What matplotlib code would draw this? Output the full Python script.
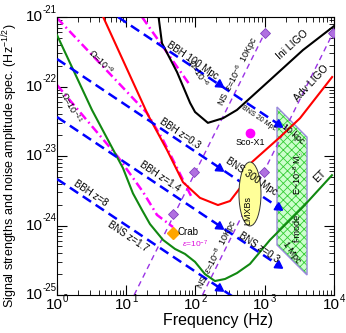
import numpy as np
import matplotlib.pyplot as plt
from matplotlib.patches import Polygon, Ellipse

plt.rcParams['font.family'] = ['Liberation Sans', 'DejaVu Sans']
plt.rcParams['mathtext.fontset'] = 'custom'
plt.rcParams['mathtext.rm'] = 'Liberation Sans'
plt.rcParams['mathtext.it'] = 'Liberation Sans:italic'
plt.rcParams['hatch.linewidth'] = 0.6

# ---------------------------
# detector noise curves (Hz, Hz^-1/2)
# ---------------------------
ini_ligo_f = [27.8, 32.8, 54, 83.6, 98.5, 151, 250, 397, 1191, 3565, 10000]
ini_ligo_h = [1.5e-21, 4.2e-22, 1.62e-22, 5.8e-23, 4.3e-23, 3.0e-23, 3.5e-23,
              4.6e-23, 1.24e-22, 3.35e-22, 7.4e-22]

adv_ligo_f = [4.18, 20.6, 38.8, 66, 116, 211, 315, 440, 555, 655, 1660, 3230, 9400]
adv_ligo_h = [1.26e-21, 3.9e-23, 1.22e-23, 4.2e-24, 2.5e-24, 1.97e-24, 2.25e-24,
              3.47e-24, 5.4e-24, 8.2e-24, 1.87e-23, 3.5e-23, 1.37e-22]

et_f = [1, 3.2, 8.97, 12.5, 16.9, 22, 34, 50.6, 70.5, 98.4, 137, 191, 267, 397,
        612, 1191, 3565, 9350]
et_h = [5.5e-22, 4.6e-23, 6.7e-24, 2.9e-24, 1.67e-24, 1.05e-24, 6.2e-25, 4.6e-25,
        3.9e-25, 3.0e-25, 2.0e-25, 1.59e-25, 1.7e-25, 2.07e-25, 2.8e-25, 6.2e-25,
        1.85e-24, 5.3e-24]

# ---------------------------
# inspiral lines (start / end) and arrow marks
# ---------------------------
insp_f0 = [7.6, 1, 1, 1]
insp_h0 = [1e-21, 2.49e-22, 3.64e-23, 4.67e-24]
insp_f1 = [1580, 1580, 1580, 400]
insp_h1 = [2.87e-23, 1.83e-24, 2.68e-25, 8.6e-26]

arrow_f = [220, 220, 220, 220, 1580, 1580, 1580]
arrow_h = [1.07e-22, 6.8e-24, 9.97e-25, 1.28e-25, 2.87e-23, 1.83e-24, 2.68e-25]

# stochastic background lines
omega_f = [[1, 19.9, 34, 89], [1, 7.6, 17.5, 27.8, 47.3], [16.9, 83]]
omega_h = [[9.7e-22, 4.16e-23, 1.7e-23, 2.5e-24],
           [1.05e-22, 9.7e-24, 3.03e-24, 1.42e-24, 9.5e-25],
           [1e-21, 1.05e-22]]

# NS (pulsar) lines
ns_f = [[13, 1000], [126, 9680]]
ns_h = [[1e-25, 5.9e-22], [1e-25, 5.9e-22]]
ns_mark_f = [1000, 95, 47, 9680, 975]
ns_mark_h = [5.9e-22, 5.9e-24, 1.46e-24, 5.9e-22, 5.9e-24]

# f-mode region
fmode_f = [1503, 4080, 4080, 1503]
fmode_h = [5.07e-23, 1.87e-23, 1.94e-25, 5.24e-25]

# LMXB region (centre, extent in decades)
lmxb_f, lmxb_h = 612, 2.84e-24
lmxb_wdec, lmxb_hdec = 0.318, 0.92

sco_f, sco_h = 612, 2.14e-23
crab_f, crab_h = 47.3, 7.8e-25

x_decades = [0, 1, 2, 3, 4]
y_decades = [-25, -24, -23, -22, -21]

# ---------------------------
fig = plt.figure(figsize=(3.46, 3.33), dpi=100)
ax = fig.add_axes([0.1647, 0.1141, 0.8006, 0.8348])
ax.set_xscale('log')
ax.set_yscale('log')
ax.set_xlim(1, 1e4)
ax.set_ylim(1e-25, 1e-21)

# f-mode box
ax.add_patch(Polygon(list(zip(fmode_f, fmode_h)), closed=True, facecolor='#ccffcc',
                     edgecolor='#33cc33', hatch='xxxx', lw=0, zorder=1))
ax.add_patch(Polygon(list(zip(fmode_f, fmode_h)), closed=True, fill=False,
                     edgecolor='#9a88dd', lw=1.0, zorder=1))

for fs, hs in zip(ns_f, ns_h):
    ax.plot(fs, hs, color='#9a33e6', lw=1.0, dashes=(4, 3), zorder=2)

for fs, hs in zip(omega_f, omega_h):
    ax.plot(fs, hs, color='#ff00ff', lw=1.8, dashes=(3.5, 1.5, 0.7, 1.5), zorder=2)

ax.plot(ini_ligo_f, ini_ligo_h, color='black', lw=1.5, zorder=3)
ax.plot(adv_ligo_f, adv_ligo_h, color='red', lw=1.5, zorder=3)
ax.plot(et_f, et_h, color='#118811', lw=1.5, zorder=3)

for f0, h0, f1, h1 in zip(insp_f0, insp_h0, insp_f1, insp_h1):
    ax.plot([f0, f1], [h0, h1], color='blue', lw=1.8, dashes=(4, 2.2), zorder=4)
ax.plot(arrow_f, arrow_h, ls='none', marker=(3, 0, -123.8), ms=7, color='blue', zorder=4)

ax.plot(ns_mark_f, ns_mark_h, ls='none', marker='D', ms=5.5, mfc='#b070e0',
        mec='#8040c0', mew=0.6, zorder=5)

ex = np.log10(lmxb_f) / 4
ey = (np.log10(lmxb_h) + 25) / 4
ax.add_patch(Ellipse((ex, ey), lmxb_wdec / 4, lmxb_hdec / 4, transform=ax.transAxes,
                     facecolor='#ffff99', edgecolor='#333333', lw=0.7, zorder=5))

ax.plot([sco_f], [sco_h], 'o', color='#ff00ff', ms=6, zorder=6)
ax.plot([crab_f], [crab_h], 'D', color='#ffa500', ms=6, zorder=6)

# ---------------------------
# labels
# ---------------------------
def lab(f, h, s, rot=0, size=7, color='black', **kw):
    ax.text(f, h, s, rotation=rot, fontsize=size, color=color, ha='center',
            va='center', rotation_mode='anchor', zorder=7, **kw)

lab(92, 2.33e-22, 'BBH 100 Mpc', -34)
lab(109, 1.56e-22, r'$\Omega$=10$^{-6}$', -58, 6.5)
lab(411, 1.62e-22, r'NS  $\varepsilon$=10$^{-6}$  10Kpc', 63, 6.5)
lab(826, 3.5e-23, 'BNS 20 Mpc', -34, 5)
lab(2477, 3.95e-22, 'Ini LIGO', 42, 7.5)
lab(4656, 1.12e-22, 'Adv LIGO', 47, 7.5)
lab(612, 1.54e-23, 'Sco-X1', 0, 6.5)
lab(59.7, 2.14e-23, 'BBH z=0.3', -34)
lab(654, 5.15e-24, 'BNS 300 Mpc', -34)
lab(30.7, 5.15e-24, 'BBH z=1.4', -34)
lab(3.1, 2.94e-24, 'BBH z=8', -34)
lab(10.6, 7.06e-25, 'BNS z=1.7', -34)
lab(826, 4.75e-25, 'BNS z=0.3', -34)
lab(4.32, 2.25e-22, r'$\Omega$=10$^{-9}$', -45, 6.5)
lab(1.59, 5.07e-23, r'$\Omega$=10$^{-11}$', -62, 6.5)
lab(6280, 5.15e-24, 'ET', 45, 7.5)
ax.text(55.9, 8.05e-25, 'Crab', fontsize=7, va='center', ha='left', zorder=7)
lab(98.4, 5.4e-25, r'$\varepsilon$=10$^{-7}$', 0, 6, color='#dd11dd')
lab(204, 3.77e-25, r'NS  $\varepsilon$=10$^{-8}$  10Kpc', 63, 6.5)
lab(573, 1.67e-24, 'LMXBs', 90, 6.5)
lab(2560, 2.07e-23, '10 kpc', -40, 6.5)
lab(3020, 5.9e-24, r'E~10$^{-8}$ M$_{\odot}$', 90, 6.5)
lab(2925, 9.2e-25, 'f-mode', 90, 6.5)
lab(2477, 4.16e-25, '1 Mpc', -55, 6.5)

# ticks: big "10" with small exponent
ax.tick_params(which='both', direction='in', top=True, right=True,
               labelbottom=False, labelleft=False)
ax.tick_params(which='major', length=7, width=0.8)
ax.tick_params(which='minor', length=3.5, width=0.6)
pt = 72 / 100.0
for e in x_decades:
    ax.annotate('10', (10.0**e, 1e-25), xytext=(-3 * pt, -10 * pt),
                textcoords='offset points', ha='center', va='center', fontsize=11)
    ax.annotate(str(e), (10.0**e, 1e-25), xytext=(6 * pt, -3.5 * pt),
                textcoords='offset points', ha='left', va='center', fontsize=7)
for e in y_decades:
    ax.annotate('10', (1, 10.0**e), xytext=(-14 * pt, 0),
                textcoords='offset points', ha='right', va='center', fontsize=11)
    ax.annotate(str(e), (1, 10.0**e), xytext=(-14 * pt, 7.5 * pt),
                textcoords='offset points', ha='left', va='center', fontsize=7)

fig.text(218 / 346, 1 - 320 / 333, 'Frequency (Hz)', fontsize=11.5, ha='center', va='center')
fig.text(10 / 346, 1 - 166 / 333, r'Signal strengths and noise amplitude spec. (Hz$^{-1/2}$)',
         fontsize=9, rotation=90, ha='center', va='center')

fig.savefig('out.png', dpi=100)
